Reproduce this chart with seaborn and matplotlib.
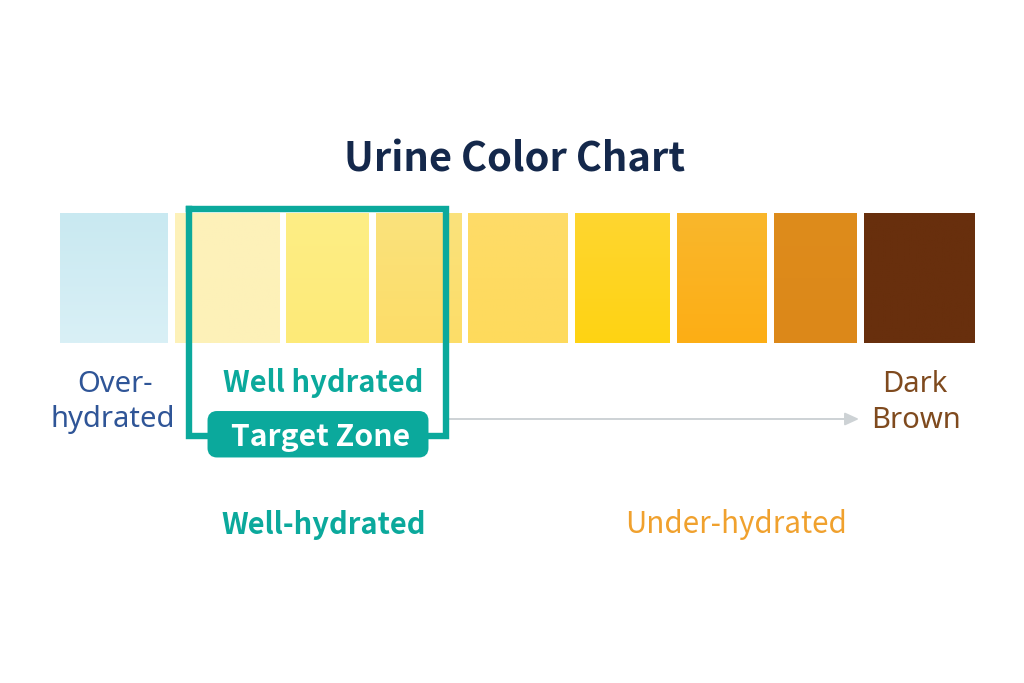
import matplotlib
matplotlib.use("Agg")
import matplotlib.pyplot as plt
import matplotlib.colors as mcolors
import numpy as np
import seaborn as sns
import pandas as pd
from matplotlib.patches import FancyBboxPatch

swatch_names = ["s1", "s2", "s3", "s4", "s5", "s6", "s7", "s8", "s9"]
swatch_left = [60, 174.5, 286, 375.5, 468, 575, 677, 774, 864]
swatch_right = [168, 279, 369, 461.5, 568, 669.5, 767, 857, 975]
swatch_colors = ["#CDEAF2", "#FDF1B8", "#FDEC80", "#FBE072", "#FEDA5E",
                 "#FED41C", "#FBB01E", "#DD8A1B", "#682F0D"]
swatch_top = ["#C9E9F1", "#FDF1BA", "#FDEE85", "#FAE27C", "#FEDC68",
              "#FED630", "#F9B72C", "#DE8C1C", "#682F0D"]
swatch_bottom = ["#D9F0F6", "#FDF1B8", "#FEEA78", "#FDDD68", "#FEDA5C",
                 "#FFD313", "#FDAE15", "#DC8819", "#682F0D"]
swatch_height = [130] * 9

sns.set_theme(style="white")
plt.rcParams["font.family"] = ["Noto Sans", "DejaVu Sans"]
bold_font = ["Noto Sans CJK SC", "DejaVu Sans"]

fig = plt.figure(figsize=(10.24, 6.83), dpi=100, facecolor="white")
ax = fig.add_axes([0, 0, 1, 1])
df = pd.DataFrame({"name": swatch_names, "h": swatch_height})
sns.barplot(data=df, x="name", y="h", hue="name", palette=swatch_colors,
            legend=False, ax=ax, bottom=213, saturation=1, linewidth=0)
for patch, l, r, top, bot in zip(ax.patches, swatch_left, swatch_right, swatch_top, swatch_bottom):
    patch.set_x(l)
    patch.set_width(r - l)
    grad = np.linspace(mcolors.to_rgb(top), mcolors.to_rgb(bot), 64)[:, None, :]
    y0, y1 = patch.get_y(), patch.get_y() + patch.get_height()
    ax.imshow(grad, extent=(l, r, y1, y0), aspect="auto", origin="upper",
              interpolation="bilinear", zorder=2)
ax.set_xlim(0, 1024)
ax.set_ylim(683, 0)
ax.axis("off")

teal = "#0BA99C"
ax.plot([188.7, 188.7, 445.7, 445.7, 188.7], [209.3, 435.5, 435.5, 209.3, 209.3],
        color=teal, lw=4.6, solid_joinstyle="miter", solid_capstyle="projecting", zorder=4)
ax.annotate("", xy=(859, 419), xytext=(449, 419), zorder=3,
            arrowprops=dict(arrowstyle="-|>,head_width=0.32,head_length=0.7", color="#CDD2D5",
                            lw=1.4, shrinkA=0, shrinkB=0))
ax.add_patch(FancyBboxPatch((211, 414.5), 214, 39.5, boxstyle="round,pad=0,rounding_size=6",
                            fc=teal, ec=teal, lw=5, zorder=5))

def label(x, y, s, color, size, weight="normal"):
    fam = bold_font if weight != "normal" else ["Noto Sans", "DejaVu Sans"]
    ax.text(x, y, s, color=color, fontsize=size, fontweight=weight, family=fam, ha="center",
            va="center", zorder=6)

label(515, 160, "Urine Color Chart", "#14284B", 28.7, "bold")
label(115, 384, "Over-", "#2F5597", 21)
label(113, 419, "hydrated", "#2F5597", 21)
label(323, 383, "Well hydrated", teal, 21, "bold")
label(321, 437, "Target Zone", "white", 21.7, "bold")
label(324, 525, "Well-hydrated", teal, 21, "bold")
label(736, 524, "Under-hydrated", "#F0A12E", 21.3, "medium")
label(915, 384, "Dark", "#7F4A1E", 21)
label(916, 420, "Brown", "#7F4A1E", 21)

fig.savefig("out.png", dpi=100)
